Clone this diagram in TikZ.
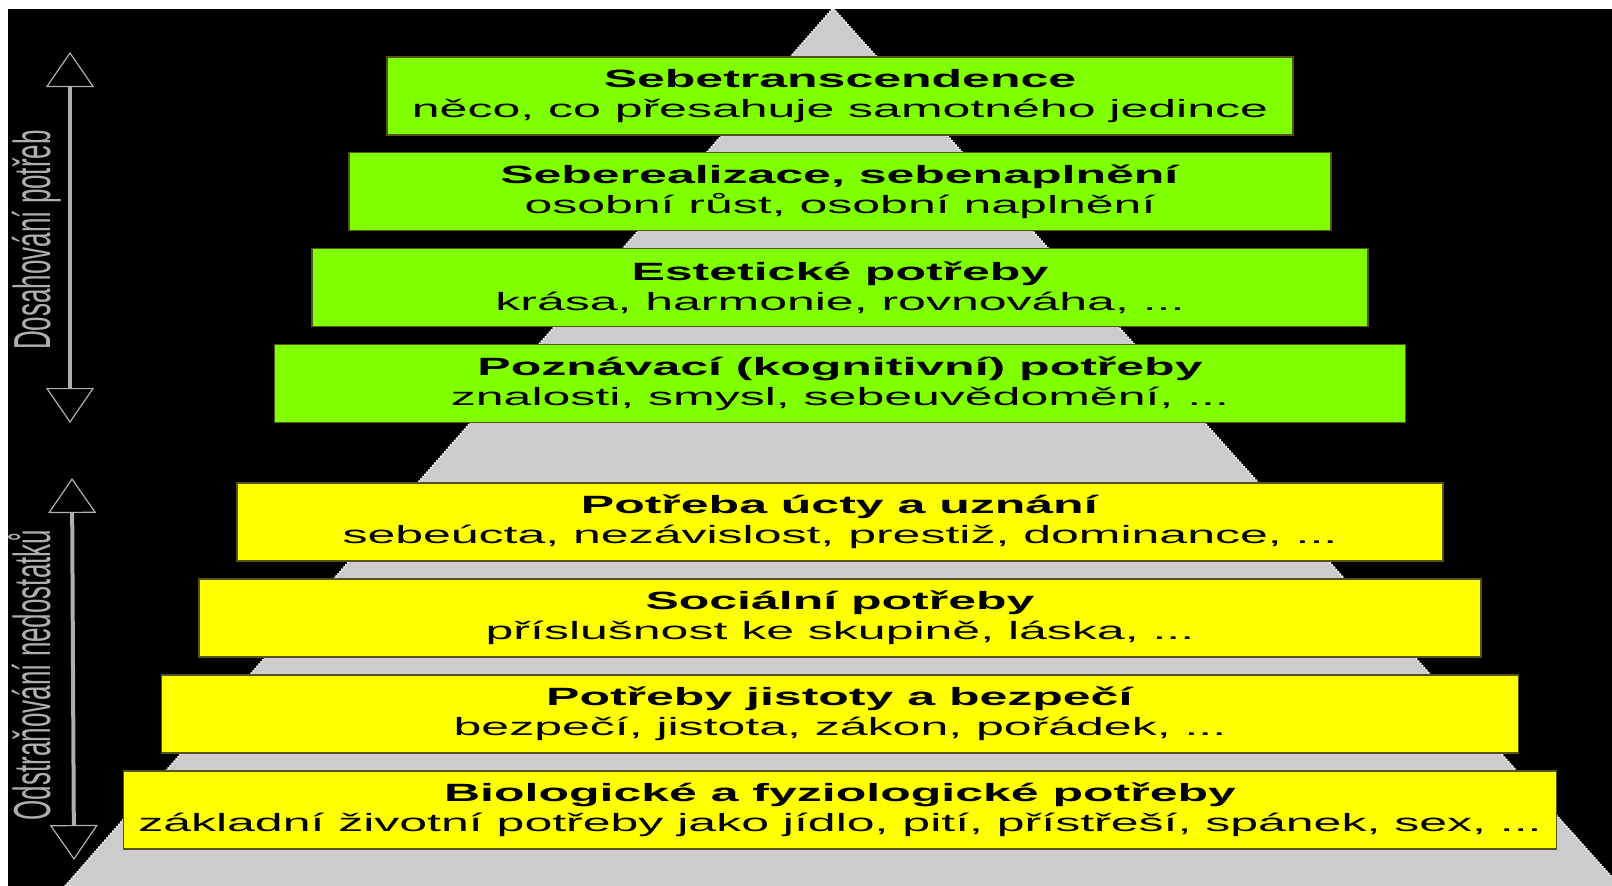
\documentclass[tikz,border=0pt]{standalone}
\usepackage{fontspec}
\setmainfont[FakeStretch=2]{Liberation Sans}
\newfontfamily\sidefont{Liberation Sans}
\usetikzlibrary{arrows.meta}
\definecolor{needgreen}{RGB}{128,255,0}
\definecolor{needyellow}{RGB}{255,255,0}
\definecolor{pyrgray}{RGB}{204,204,204}
\definecolor{boxedge}{RGB}{85,85,25}
\definecolor{sidegray}{RGB}{175,175,175}

\begin{document}
\begin{tikzpicture}[x=1pt,y=-1pt]
	\tikzstyle{every node}+=[inner sep=0pt]
	\tikzstyle{needbox}=[draw=boxedge, line width=1.5pt, minimum height=78pt, align=center, font=\fontsize{25}{30}\selectfont]
	\tikzstyle{sidelabel}=[rotate=90, anchor=base, text=sidegray, font=\sidefont\fontsize{26}{26}\selectfont]
	\tikzstyle{sidearrow}=[draw=sidegray, line width=4pt, {Triangle[length=35pt,width=48pt,fill=black,line width=1.2pt]}-{Triangle[length=35pt,width=48pt,fill=black,line width=1.2pt]}]
	\useasboundingbox (0,0) rectangle (1612,886);
	\fill [white] (0,0) rectangle (1612,886);
	\fill [black] (8,9) rectangle (1612,886);
	\clip (8,9) rectangle (1612,886);
	% pyramida
	\coordinate (apex) at (833,8);
	\coordinate (baseL) at (65,886);
	\coordinate (baseR) at (1620,886);
	\fill [pyrgray] (apex) -- (baseL) -- (baseR) -- cycle;
	\draw [white, line width=1.5pt, dash pattern=on 1.5pt off 1.5pt] (baseL) -- (apex) -- (baseR);
	% zelene urovne
	\node [needbox, fill=needgreen, minimum width=906pt] (lvl1) at (840,96) {\textbf{Sebetranscendence}\\něco, co přesahuje samotného jedince};
	\node [needbox, fill=needgreen, minimum width=982pt] (lvl2) at (840,191.5) {\textbf{Seberealizace, sebenaplnění}\\osobní růst, osobní naplnění};
	\node [needbox, fill=needgreen, minimum width=1056pt] (lvl3) at (840,287.5) {\textbf{Estetické potřeby}\\krása, harmonie, rovnováha, ...};
	\node [needbox, fill=needgreen, minimum width=1131pt] (lvl4) at (840,383.5) {\textbf{Poznávací (kognitivní) potřeby}\\znalosti, smysl, sebeuvědomění, ...};
	% zlute urovne
	\node [needbox, fill=needyellow, minimum width=1206pt] (lvl5) at (840,522) {\textbf{Potřeba úcty a uznání}\\sebeúcta, nezávislost, prestiž, dominance, ...};
	\node [needbox, fill=needyellow, minimum width=1282pt] (lvl6) at (840,618) {\textbf{Sociální potřeby}\\příslušnost ke skupině, láska, ...};
	\node [needbox, fill=needyellow, minimum width=1357pt] (lvl7) at (840,714) {\textbf{Potřeby jistoty a bezpečí}\\bezpečí, jistota, zákon, pořádek, ...};
	\node [needbox, fill=needyellow, minimum width=1433pt] (lvl8) at (840,810) {\textbf{Biologické a fyziologické potřeby}\\základní životní potřeby jako jídlo, pití, přístřeší, spánek, sex, ...};
	% sipky vlevo
	\coordinate (dosahT) at (70,52);
	\coordinate (dosahB) at (70,423);
	\draw [sidearrow] (dosahT) -- (dosahB);
	\coordinate (odstrT) at (72,478);
	\coordinate (odstrB) at (74,860);
	\draw [sidearrow] (odstrT) -- (odstrB);
	\node [sidelabel] (dosah) at (50,240) {\scalebox{1}[2]{Dosahování potřeb}};
	\node [sidelabel] (odstr) at (50,675) {\scalebox{1}[2]{Odstraňování nedostatků}};
\end{tikzpicture}
\end{document}
